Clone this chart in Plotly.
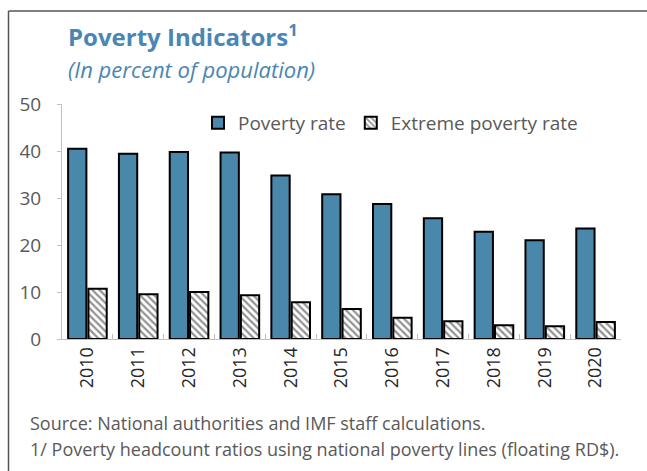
import plotly.graph_objects as go

years = ["2010", "2011", "2012", "2013", "2014", "2015", "2016", "2017", "2018", "2019", "2020"]
poverty_rate = [40.5, 39.4, 39.8, 39.7, 34.8, 30.8, 28.7, 25.7, 22.8, 21.0, 23.5]
extreme_poverty_rate = [10.7, 9.5, 10.0, 9.3, 7.8, 6.4, 4.5, 3.8, 2.9, 2.7, 3.6]
y_ticks = [0, 10, 20, 30, 40, 50]

W, H = 647, 471
L, R, T, B = 62, 26, 104, 132
pw, ph = W - L - R, H - T - B

def px(x):
    return (x - L) / pw

def py(y):
    return (H - B - y) / ph

font_family = "Open Sans, Noto Sans, sans-serif"
blue = "#4a88ab"
title_blue = "#4a86b4"
grey_text = "#595959"

fig = go.Figure()
fig.add_trace(go.Bar(
    x=years, y=poverty_rate, name="Poverty rate",
    marker=dict(color=blue, line=dict(color="black", width=2)),
))
fig.add_trace(go.Bar(
    x=years, y=extreme_poverty_rate, name="Extreme poverty rate",
    marker=dict(color="white", line=dict(color="black", width=2),
                pattern=dict(shape="\\", fgcolor="#262626", bgcolor="white", size=5, solidity=0.45)),
))

fig.update_layout(
    width=W, height=H,
    margin=dict(l=L, r=R, t=T, b=B, autoexpand=False),
    paper_bgcolor="white", plot_bgcolor="white",
    barmode="group", bargap=0.2, bargroupgap=0.1,
    font=dict(family=font_family, color=grey_text),
    showlegend=True,
    legend=dict(orientation="h", x=px(198), y=py(104), xanchor="left", yanchor="top",
                font=dict(size=19, color=grey_text), bgcolor="rgba(0,0,0,0)",
                itemwidth=30, traceorder="normal"),
    xaxis=dict(
        type="category", showgrid=False, showline=True, linecolor="#bfbfbf", linewidth=1,
        ticks="inside", tickson="boundaries", ticklen=5, tickcolor="#bfbfbf",
        tickangle=-90, tickfont=dict(size=18, color="#262626"),
    ),
    yaxis=dict(
        range=[0, 50], tickvals=y_ticks, showgrid=False, zeroline=False,
        showline=True, linecolor="#bfbfbf", linewidth=1,
        ticks="outside", ticklen=4, tickcolor="#bfbfbf",
        ticklabelstandoff=12, tickfont=dict(size=19, color=grey_text),
    ),
    annotations=[
        dict(text="<b>Poverty Indicators<sup>1</sup></b>", x=px(66), y=py(55), xref="paper", yref="paper",
             xanchor="left", yanchor="bottom", showarrow=False,
             font=dict(size=24, color=title_blue, family=font_family)),
        dict(text="<i>(In percent of population)</i>", x=px(66), y=py(86), xref="paper", yref="paper",
             xanchor="left", yanchor="bottom", showarrow=False,
             font=dict(size=22, color=title_blue, family=font_family)),
        dict(text="Source: National authorities and IMF staff calculations.", x=px(28), y=py(437),
             xref="paper", yref="paper", xanchor="left", yanchor="bottom", showarrow=False,
             font=dict(size=18, color=grey_text)),
        dict(text="1/ Poverty headcount ratios using national poverty lines (floating RD$).", x=px(28), y=py(463),
             xref="paper", yref="paper", xanchor="left", yanchor="bottom", showarrow=False,
             font=dict(size=18, color=grey_text)),
    ],
    shapes=[
        dict(type="line", xref="paper", yref="paper", x0=px(8.5), x1=px(8.5), y0=py(11), y1=py(H),
             line=dict(color="#555555", width=1.5)),
        dict(type="line", xref="paper", yref="paper", x0=px(8.5), x1=px(W), y0=py(11), y1=py(11),
             line=dict(color="#555555", width=1.5)),
    ],
)

fig.write_html("out.html", config={"displayModeBar": False},
               post_script="document.body.style.margin='0';document.body.style.overflow='hidden';")
